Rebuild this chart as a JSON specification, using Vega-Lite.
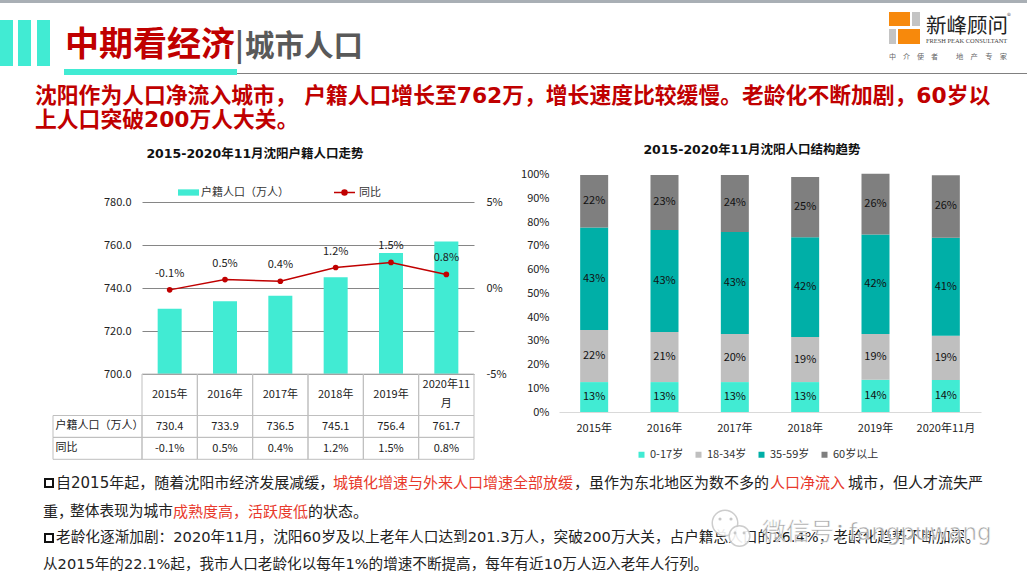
{
"$schema":"https://vega.github.io/schema/vega-lite/v6.json",
"width":1027,"height":580,"padding":0,"autosize":"none","background":"#ffffff",
"config":{"view":{"stroke":null},"text":{"font":"Noto Sans CJK SC","fontSize":11,"color":"#222222"},"axis":{"labelFont":"Noto Sans CJK SC","labelFontSize":11,"labelColor":"#222222","title":null,"ticks":false,"domain":false,"grid":false},"legend":{"labelFont":"Noto Sans CJK SC","labelFontSize":11,"labelColor":"#333333","title":null}},
"datasets":{
"pop":[
{"year":"2015年","header":"2015年","population":730.4,"yoy":-0.1,"yoyText":"-0.1%","series":"户籍人口（万人）","line":"同比"},
{"year":"2016年","header":"2016年","population":733.9,"yoy":0.5,"yoyText":"0.5%","series":"户籍人口（万人）","line":"同比"},
{"year":"2017年","header":"2017年","population":736.5,"yoy":0.4,"yoyText":"0.4%","series":"户籍人口（万人）","line":"同比"},
{"year":"2018年","header":"2018年","population":745.1,"yoy":1.2,"yoyText":"1.2%","series":"户籍人口（万人）","line":"同比"},
{"year":"2019年","header":"2019年","population":756.4,"yoy":1.5,"yoyText":"1.5%","series":"户籍人口（万人）","line":"同比"},
{"year":"2020年11月","header":"2020年11\n月","population":761.7,"yoy":0.8,"yoyText":"0.8%","series":"户籍人口（万人）","line":"同比"}],
"age":[
{"year":"2015年","age":"0-17岁","rank":1,"pct":0.126},{"year":"2015年","age":"18-34岁","rank":2,"pct":0.22},{"year":"2015年","age":"35-59岁","rank":3,"pct":0.432},{"year":"2015年","age":"60岁以上","rank":4,"pct":0.221},
{"year":"2016年","age":"0-17岁","rank":1,"pct":0.126},{"year":"2016年","age":"18-34岁","rank":2,"pct":0.211},{"year":"2016年","age":"35-59岁","rank":3,"pct":0.43},{"year":"2016年","age":"60岁以上","rank":4,"pct":0.232},
{"year":"2017年","age":"0-17岁","rank":1,"pct":0.126},{"year":"2017年","age":"18-34岁","rank":2,"pct":0.203},{"year":"2017年","age":"35-59岁","rank":3,"pct":0.43},{"year":"2017年","age":"60岁以上","rank":4,"pct":0.24},
{"year":"2018年","age":"0-17岁","rank":1,"pct":0.126},{"year":"2018年","age":"18-34岁","rank":2,"pct":0.19},{"year":"2018年","age":"35-59岁","rank":3,"pct":0.42},{"year":"2018年","age":"60岁以上","rank":4,"pct":0.254},
{"year":"2019年","age":"0-17岁","rank":1,"pct":0.136},{"year":"2019年","age":"18-34岁","rank":2,"pct":0.193},{"year":"2019年","age":"35-59岁","rank":3,"pct":0.419},{"year":"2019年","age":"60岁以上","rank":4,"pct":0.256},
{"year":"2020年11月","age":"0-17岁","rank":1,"pct":0.135},{"year":"2020年11月","age":"18-34岁","rank":2,"pct":0.186},{"year":"2020年11月","age":"35-59岁","rank":3,"pct":0.413},{"year":"2020年11月","age":"60岁以上","rank":4,"pct":0.264}],
"one":[{"k":1}]
},
"resolve":{"scale":{"x":"independent","y":"independent","color":"independent"},"axis":{"x":"independent","y":"independent"},"legend":{"color":"independent"}},
"layer":[
{"data":{"name":"one"},"mark":{"type":"rect","color":"#A9AFB5"},"encoding":{"x":{"value":0},"x2":{"value":1027},"y":{"value":0},"y2":{"value":3}}},
{"data":{"name":"one"},"mark":{"type":"rect","color":"#41EBD3"},"encoding":{"x":{"value":0},"x2":{"value":13},"y":{"value":20},"y2":{"value":66}}},
{"data":{"name":"one"},"mark":{"type":"rect","color":"#41EBD3"},"encoding":{"x":{"value":18},"x2":{"value":31},"y":{"value":20},"y2":{"value":66}}},
{"data":{"name":"one"},"mark":{"type":"rect","color":"#41EBD3"},"encoding":{"x":{"value":37},"x2":{"value":50},"y":{"value":20},"y2":{"value":66}}},
{"data":{"name":"one"},"mark":{"type":"rect","color":"#808080"},"encoding":{"x":{"value":237},"x2":{"value":1027},"y":{"value":73},"y2":{"value":74}}},
{"data":{"name":"one"},"mark":{"type":"rect","color":"#41EBD3"},"encoding":{"x":{"value":64},"x2":{"value":237},"y":{"value":69},"y2":{"value":75}}},
{"data":{"name":"one"},"mark":{"type":"rect","color":"#F7890C"},"encoding":{"x":{"value":889},"x2":{"value":910},"y":{"value":12},"y2":{"value":26}}},
{"data":{"name":"one"},"mark":{"type":"rect","color":"#C4C4C4"},"encoding":{"x":{"value":912},"x2":{"value":920},"y":{"value":12},"y2":{"value":26}}},
{"data":{"name":"one"},"mark":{"type":"rect","color":"#C4C4C4"},"encoding":{"x":{"value":889},"x2":{"value":896},"y":{"value":29},"y2":{"value":44}}},
{"data":{"name":"one"},"mark":{"type":"rect","color":"#F7890C"},"encoding":{"x":{"value":898},"x2":{"value":920},"y":{"value":29},"y2":{"value":44}}},
{"data":{"values":[{"t":"新峰顾问"}]},"mark":{"type":"text","x":926,"y":27,"align":"left","fontSize":20.5,"font":"Noto Sans CJK SC","fontWeight":"normal","color":"#222222"},"encoding":{"text":{"field":"t"}}},
{"data":{"values":[{"t":"®"}]},"mark":{"type":"text","x":1007,"y":17,"align":"left","fontSize":8,"color":"#666666"},"encoding":{"text":{"field":"t"}}},
{"data":{"values":[{"t":"FRESH PEAK CONSULTANT"}]},"mark":{"type":"text","x":926,"y":41,"align":"left","fontSize":6.4,"font":"Liberation Serif","color":"#444444"},"encoding":{"text":{"field":"t"}}},
{"data":{"values":[{"t":"中　介　使　者"}]},"mark":{"type":"text","x":889,"y":57,"align":"left","fontSize":7,"color":"#666666"},"encoding":{"text":{"field":"t"}}},
{"data":{"values":[{"t":"地　产　专　家"}]},"mark":{"type":"text","x":956,"y":57,"align":"left","fontSize":7.3,"color":"#666666"},"encoding":{"text":{"field":"t"}}},
{"data":{"values":[{"t":"中期看经济"}]},"mark":{"type":"text","x":65,"y":46,"align":"left","fontSize":34,"fontWeight":"bold","color":"#C00000"},"encoding":{"text":{"field":"t"}}},
{"data":{"values":[{"t":"|"}]},"mark":{"type":"text","x":235,"y":47,"align":"left","fontSize":30,"fontWeight":"bold","color":"#595959"},"encoding":{"text":{"field":"t"}}},
{"data":{"values":[{"t":"城市人口"}]},"mark":{"type":"text","x":245,"y":47,"align":"left","fontSize":29.5,"fontWeight":"bold","color":"#595959"},"encoding":{"text":{"field":"t"}}},
{"data":{"values":[{"t":"沈阳作为人口净流入城市， 户籍人口增长至762万，增长速度比较缓慢。老龄化不断加剧，60岁以"}]},"mark":{"type":"text","x":35,"y":96,"align":"left","fontSize":21.8,"font":"DejaVu Sans, Noto Sans CJK SC","fontWeight":"bold","color":"#C00000"},"encoding":{"text":{"field":"t"}}},
{"data":{"values":[{"t":"上人口突破200万人大关。"}]},"mark":{"type":"text","x":35,"y":120,"align":"left","fontSize":21.8,"font":"DejaVu Sans, Noto Sans CJK SC","fontWeight":"bold","color":"#C00000"},"encoding":{"text":{"field":"t"}}},
{"data":{"values":[{"t":"2015-2020年11月沈阳户籍人口走势"}]},"mark":{"type":"text","x":255,"y":154,"align":"center","fontSize":12.5,"font":"DejaVu Sans, Noto Sans CJK SC","fontWeight":"bold","color":"#111111"},"encoding":{"text":{"field":"t"}}},
{"data":{"values":[{"t":"2015-2020年11月沈阳人口结构趋势"}]},"mark":{"type":"text","x":752,"y":150,"align":"center","fontSize":12.5,"font":"DejaVu Sans, Noto Sans CJK SC","fontWeight":"bold","color":"#111111"},"encoding":{"text":{"field":"t"}}},
{"data":{"name":"pop"},"mark":{"type":"bar","size":24},"encoding":{
 "x":{"field":"year","type":"nominal","scale":{"range":[142,474],"paddingInner":0,"paddingOuter":0},"axis":null},
 "y":{"field":"population","type":"quantitative","scale":{"domain":[700,780],"range":[374,202.3],"nice":false,"zero":false},"axis":{"orient":"left","offset":-142,"labelPadding":11,"grid":true,"gridColor":"#868686","gridWidth":1,"values":[700,720,740,760,780],"format":".1f"}},
 "y2":{"datum":700},
 "color":{"field":"series","type":"nominal","scale":{"domain":["户籍人口（万人）"],"range":["#41EBD3"]},"legend":{"orient":"none","legendX":177,"legendY":181,"symbolType":"M-1,-0.3H1V0.3H-1Z","symbolSize":441,"labelOffset":1}}
}},
{"data":{"name":"pop"},
 "encoding":{
 "x":{"field":"year","type":"nominal","scale":{"range":[142,474],"paddingInner":0,"paddingOuter":0},"axis":null},
 "y":{"field":"yoy","type":"quantitative","scale":{"domain":[-5,5],"range":[374,202.3],"nice":false},"axis":{"orient":"right","offset":-553,"labelPadding":12,"values":[-5,0,5],"labelExpr":"datum.value + '%'"}}},
 "layer":[
 {"mark":{"type":"line","strokeWidth":1.5},"encoding":{"color":{"field":"line","type":"nominal","scale":{"domain":["同比"],"range":["#C00000"]},"legend":{"orient":"none","legendX":333,"legendY":181,"symbolType":"M-1,0H-0.24A0.24,0.24 0 1,1 0.24,0H1M0.24,0A0.24,0.24 0 1,1 -0.24,0","symbolSize":441,"symbolStrokeWidth":1.5,"labelOffset":3,"encode":{"symbols":{"update":{"fill":{"value":"#C00000"}}}}}}}},
 {"mark":{"type":"point","filled":true,"size":32,"color":"#C00000","opacity":1}},
 {"mark":{"type":"text","dy":-16},"encoding":{"text":{"field":"yoyText"}}}
 ]},
{"data":{"name":"pop"},
 "encoding":{
 "x":{"field":"year","type":"nominal","scale":{"range":[142,474],"paddingInner":0,"paddingOuter":0},"axis":null},
 "y":{"datum":"年份","type":"nominal","scale":{"range":[374,415.5],"paddingInner":0,"paddingOuter":0},"axis":null}},
 "layer":[
 {"mark":{"type":"rect","fill":"transparent","stroke":"#BFBFBF","strokeWidth":1}},
 {"transform":[{"filter":"datum.year !== '2020年11月'"}],"mark":{"type":"text"},"encoding":{"text":{"field":"header"}}},
 {"transform":[{"filter":"datum.year === '2020年11月'"}],"mark":{"type":"text","lineBreak":"\n","lineHeight":19,"dy":-9.5},"encoding":{"text":{"field":"header"}}}
 ]},
{"data":{"name":"pop"},
 "encoding":{
 "x":{"field":"year","type":"nominal","scale":{"range":[142,474],"paddingInner":0,"paddingOuter":0},"axis":null},
 "y":{"datum":"户籍人口（万人）","type":"nominal","scale":{"domain":["户籍人口（万人）","同比"],"range":[415.5,459.3],"paddingInner":0,"paddingOuter":0},"axis":null}},
 "layer":[
 {"mark":{"type":"rect","fill":"transparent","stroke":"#BFBFBF","strokeWidth":1}},
 {"mark":{"type":"text","dy":0.5},"encoding":{"text":{"field":"population","type":"quantitative","format":".1f"}}}
 ]},
{"data":{"name":"pop"},
 "encoding":{
 "x":{"field":"year","type":"nominal","scale":{"range":[142,474],"paddingInner":0,"paddingOuter":0},"axis":null},
 "y":{"datum":"同比","type":"nominal","scale":{"domain":["户籍人口（万人）","同比"],"range":[415.5,459.3],"paddingInner":0,"paddingOuter":0},"axis":null}},
 "layer":[
 {"mark":{"type":"rect","fill":"transparent","stroke":"#BFBFBF","strokeWidth":1}},
 {"mark":{"type":"text","dy":0.5},"encoding":{"text":{"field":"yoyText"}}}
 ]},
{"data":{"values":[{"row":"户籍人口（万人）","col":"指标"},{"row":"同比","col":"指标"}]},
 "encoding":{
 "x":{"field":"col","type":"nominal","scale":{"range":[53,142],"paddingInner":0,"paddingOuter":0},"axis":null},
 "y":{"field":"row","type":"nominal","scale":{"domain":["户籍人口（万人）","同比"],"range":[415.5,459.3],"paddingInner":0,"paddingOuter":0},"axis":null}},
 "layer":[
 {"mark":{"type":"rect","fill":"transparent","stroke":"#BFBFBF","strokeWidth":1}},
 {"mark":{"type":"text","align":"left","dx":-42},"encoding":{"text":{"field":"row"}}}
 ]},
{"data":{"name":"age"},
 "encoding":{
 "x":{"field":"year","type":"nominal","scale":{"range":[559,981],"paddingInner":0,"paddingOuter":0},"axis":{"orient":"bottom","offset":-168,"domain":true,"domainColor":"#D9D9D9","domainWidth":1,"labelAngle":0,"labelPadding":10}},
 "y":{"field":"pct","type":"quantitative","stack":"zero","scale":{"domain":[0,1],"range":[412,174.7],"nice":false},"axis":{"orient":"left","offset":-559,"labelPadding":10,"values":[0,0.1,0.2,0.3,0.4,0.5,0.6,0.7,0.8,0.9,1],"format":".0%"}},
 "order":{"field":"rank","type":"quantitative"}},
 "layer":[
 {"mark":{"type":"bar","size":28},"encoding":{"color":{"field":"age","type":"nominal","scale":{"domain":["0-17岁","18-34岁","35-59岁","60岁以上"],"range":["#41EBD3","#BFBFBF","#00AFA7","#7F7F7F"]},"legend":{"orient":"none","legendX":636,"legendY":449,"direction":"horizontal","symbolType":"square","symbolSize":36,"labelOffset":3,"columnPadding":9}}}},
 {"mark":{"type":"text","color":"#111111"},"encoding":{"y":{"field":"pct","type":"quantitative","stack":"zero","bandPosition":0.5},"text":{"field":"pct","type":"quantitative","format":".0%"}}}
 ]},
{"data":{"name":"one"},"mark":{"type":"point","shape":"square","x":49,"y":483,"size":64,"filled":false,"color":"#111111","strokeWidth":2,"opacity":1}},
{"data":{"values":[{"t":"自2015年起，随着沈阳市经济发展减缓，"}]},"mark":{"type":"text","x":56,"y":483,"align":"left","fontSize":15,"font":"DejaVu Sans, Noto Sans CJK SC","color":"#222222"},"encoding":{"text":{"field":"t"}}},
{"data":{"values":[{"t":"城镇化增速与外来人口增速全部放缓"}]},"mark":{"type":"text","x":333,"y":483,"align":"left","fontSize":15,"color":"#E8392B"},"encoding":{"text":{"field":"t"}}},
{"data":{"values":[{"t":"，虽作为东北地区为数不多的"}]},"mark":{"type":"text","x":574,"y":483,"align":"left","fontSize":15,"color":"#222222"},"encoding":{"text":{"field":"t"}}},
{"data":{"values":[{"t":"人口净流入"}]},"mark":{"type":"text","x":770,"y":483,"align":"left","fontSize":15,"color":"#E8392B"},"encoding":{"text":{"field":"t"}}},
{"data":{"values":[{"t":"城市，但人才流失严"}]},"mark":{"type":"text","x":848,"y":483,"align":"left","fontSize":15,"color":"#222222"},"encoding":{"text":{"field":"t"}}},
{"data":{"values":[{"t":"重，"}]},"mark":{"type":"text","x":43,"y":512,"align":"left","fontSize":15,"color":"#222222"},"encoding":{"text":{"field":"t"}}},
{"data":{"values":[{"t":"整体表现为城市"}]},"mark":{"type":"text","x":70,"y":512,"align":"left","fontSize":14.7,"color":"#222222"},"encoding":{"text":{"field":"t"}}},
{"data":{"values":[{"t":"成熟度高，活跃度低"}]},"mark":{"type":"text","x":173,"y":512,"align":"left","fontSize":15,"color":"#E8392B"},"encoding":{"text":{"field":"t"}}},
{"data":{"values":[{"t":"的状态。"}]},"mark":{"type":"text","x":308,"y":512,"align":"left","fontSize":15,"color":"#222222"},"encoding":{"text":{"field":"t"}}},
{"data":{"name":"one"},"mark":{"type":"point","shape":"square","x":49,"y":538,"size":64,"filled":false,"color":"#111111","strokeWidth":2,"opacity":1}},
{"data":{"values":[{"t":"老龄化逐渐加剧：2020年11月，沈阳60岁及以上老年人口达到201.3万人，突破200万大关，占户籍总人口的26.4%，老龄化趋势不断加深。"}]},"mark":{"type":"text","x":56,"y":538,"align":"left","fontSize":14.67,"font":"DejaVu Sans, Noto Sans CJK SC","color":"#222222"},"encoding":{"text":{"field":"t"}}},
{"data":{"values":[{"t":"从2015年的22.1%起，我市人口老龄化以每年1%的增速不断提高，每年有近10万人迈入老年人行列。"}]},"mark":{"type":"text","x":43,"y":565,"align":"left","fontSize":14.6,"font":"DejaVu Sans, Noto Sans CJK SC","color":"#222222"},"encoding":{"text":{"field":"t"}}},
{"data":{"name":"one"},"mark":{"type":"point","shape":"circle","x":725,"y":523,"size":650,"fill":"#ffffff","stroke":"#C8C8C8","strokeWidth":1.5,"opacity":0.9}},
{"data":{"name":"one"},"mark":{"type":"point","shape":"circle","x":720,"y":519,"size":10,"filled":true,"color":"#C8C8C8","opacity":1}},
{"data":{"name":"one"},"mark":{"type":"point","shape":"circle","x":731,"y":519,"size":10,"filled":true,"color":"#C8C8C8","opacity":1}},
{"data":{"name":"one"},"mark":{"type":"point","shape":"circle","x":739.5,"y":536,"size":430,"fill":"#ffffff","stroke":"#C8C8C8","strokeWidth":1.5,"opacity":0.9}},
{"data":{"name":"one"},"mark":{"type":"point","shape":"circle","x":735,"y":533,"size":8,"filled":true,"color":"#C8C8C8","opacity":1}},
{"data":{"name":"one"},"mark":{"type":"point","shape":"circle","x":744,"y":533,"size":8,"filled":true,"color":"#C8C8C8","opacity":1}},
{"data":{"values":[{"t":"微信号："}]},"mark":{"type":"text","x":762,"y":533,"align":"left","fontSize":24,"color":"#9A9A9A","stroke":"#ffffff","strokeWidth":0.6,"opacity":0.9},"encoding":{"text":{"field":"t"}}},
{"data":{"values":[{"t":"fangpuwang"}]},"mark":{"type":"text","x":849,"y":533,"align":"left","fontSize":23,"font":"DejaVu Sans","color":"#9A9A9A","stroke":"#ffffff","strokeWidth":0.6,"opacity":0.9},"encoding":{"text":{"field":"t"}}}
]
}
